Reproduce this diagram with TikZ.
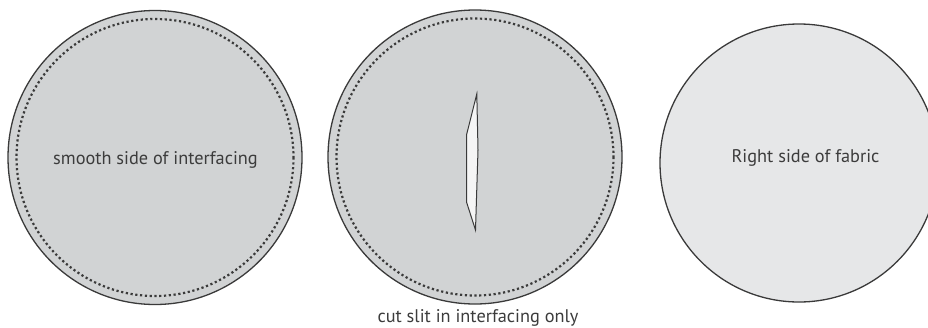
\documentclass[tikz,border=0pt]{standalone}
\usepackage{fontspec}
\setmainfont{PT Sans}
\definecolor{fillA}{HTML}{D1D3D4}
\definecolor{fillB}{HTML}{E6E7E8}
\definecolor{edge}{HTML}{3A3A3A}
\definecolor{txt}{HTML}{3C3C3C}
\begin{document}
\begin{tikzpicture}[x=1pt,y=-1pt,
  disc/.style={circle, draw=edge, line width=1.3pt, inner sep=0pt},
  stitch/.style={draw=edge, line width=2.2pt, dash pattern=on 2.2pt off 2.6pt},
  lbl/.style={text=txt, font=\fontsize{18.3}{20}\selectfont, inner sep=0pt}]
\useasboundingbox (0,0) rectangle (928,327);
\clip (0,0) rectangle (928,327);
% circle 1
\node[disc, fill=fillA, minimum size=294pt] (c1) at (155,157.5) {};
\draw[stitch] (c1.center) circle (138.5);
\node[lbl] (t1) at (155.5,160) {smooth side of interfacing};
% circle 2
\node[disc, fill=fillA, minimum size=294pt] (c2) at (475,157) {};
\draw[stitch] (c2.center) circle (138.5);
\draw[edge, line width=1pt, fill=white!96!black, line join=miter]
  (476.8,94) -- (478,150) -- (475.5,230) -- (466.5,202) -- (466.5,135) -- cycle;
\node[lbl] (t2) at (478,318) {cut slit in interfacing only};
% circle 3
\node[disc, fill=fillB, minimum size=278pt] (c3) at (799,163) {};
\node[lbl] (t3) at (805.5,158) {Right side of fabric};
\end{tikzpicture}
\end{document}
